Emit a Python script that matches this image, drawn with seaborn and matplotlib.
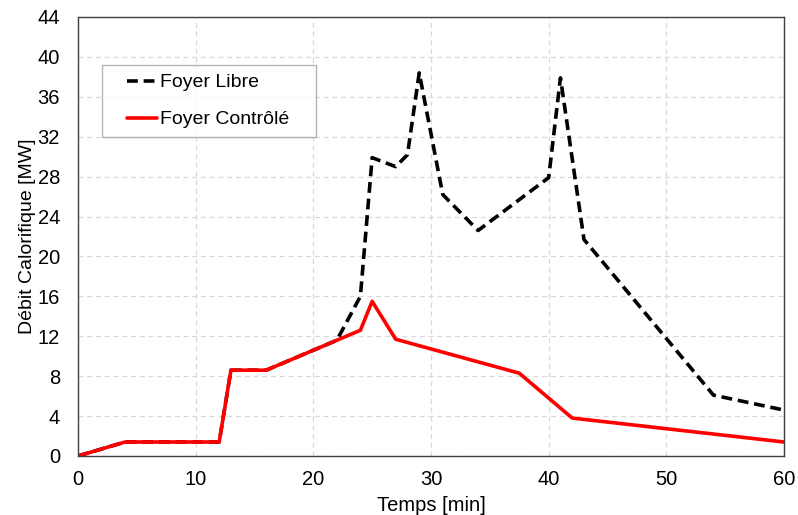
import seaborn as sns
import matplotlib.pyplot as plt
import pandas as pd
from matplotlib.legend_handler import HandlerLine2D

# Foyer libre (dashed black)
t_libre = [0, 4, 12, 13, 16, 22, 24, 25, 27, 28, 29, 31, 34, 40, 41, 43, 54, 60]
q_libre = [0, 1.4, 1.4, 8.6, 8.6, 11.6, 16, 29.9, 29.0, 30.2, 38.4, 26.2, 22.6, 27.9, 37.9, 21.7, 6.1, 4.6]

# Foyer controle (solid red)
t_ctrl = [0, 4, 12, 13, 16, 24, 25, 27, 37.5, 42, 60]
q_ctrl = [0, 1.4, 1.4, 8.6, 8.6, 12.6, 15.5, 11.7, 8.3, 3.8, 1.4]


class InsetHandler(HandlerLine2D):
    # legend line starts further right, ends at the label
    def get_xdata(self, legend, xdescent, ydescent, width, height, fontsize):
        x = [-xdescent + 0.85 * fontsize, width - xdescent]
        return x, x


sns.set_style("white")
plt.rcParams['font.family'] = ['Liberation Sans', 'DejaVu Sans']
plt.rcParams['text.color'] = 'black'
plt.rcParams['axes.labelcolor'] = 'black'
plt.rcParams['xtick.labelcolor'] = 'black'
plt.rcParams['ytick.labelcolor'] = 'black'

df_libre = pd.DataFrame({"t": t_libre, "q": q_libre})
df_ctrl = pd.DataFrame({"t": t_ctrl, "q": q_ctrl})

fig = plt.figure(figsize=(7.98, 5.15), dpi=100)
ax = fig.add_axes([0.0977, 0.1146, 0.8848, 0.8524])

sns.lineplot(data=df_libre, x="t", y="q", ax=ax, color="black", linewidth=2.6,
             linestyle=(0, (3, 1.6)), label="Foyer Libre", sort=False)
sns.lineplot(data=df_ctrl, x="t", y="q", ax=ax, color="#ff0000", linewidth=2.6,
             label="Foyer Contrôlé", sort=False)

ax.set_xlim(0, 60)
ax.set_ylim(0, 44)
ax.set_xticks(range(0, 61, 10))
ax.set_yticks(range(0, 45, 4))
ax.grid(True, color="#d9d9d9", linestyle=(0, (4, 3)), linewidth=0.9)
ax.tick_params(axis="both", direction="in", length=3.5, width=0.8, color="#808080")
ax.tick_params(axis="x", labelsize=14.5, pad=10)
ax.tick_params(axis="y", labelsize=14.5, pad=13)
for s in ax.spines.values():
    s.set_color("#404040")
    s.set_linewidth(1.0)

ax.set_xlabel("Temps [min]", fontsize=14.5, labelpad=5)
ax.set_ylabel("Débit Calorifique [MW]", fontsize=14, labelpad=1)

h, l = ax.get_legend_handles_labels()
leg = ax.legend(h, l, loc="upper left", bbox_to_anchor=(0.034, 0.5, 0.303, 0.3907),
                mode="expand", borderaxespad=0, fontsize=14,
                frameon=True, fancybox=False, edgecolor="#a0a0a0",
                handlelength=2.4, handletextpad=0.15, borderpad=0.45,
                labelspacing=1.0,
                handler_map={h[0]: InsetHandler(), h[1]: InsetHandler()})
leg.get_frame().set_linewidth(1.0)

fig.savefig("out.png", dpi=100)
